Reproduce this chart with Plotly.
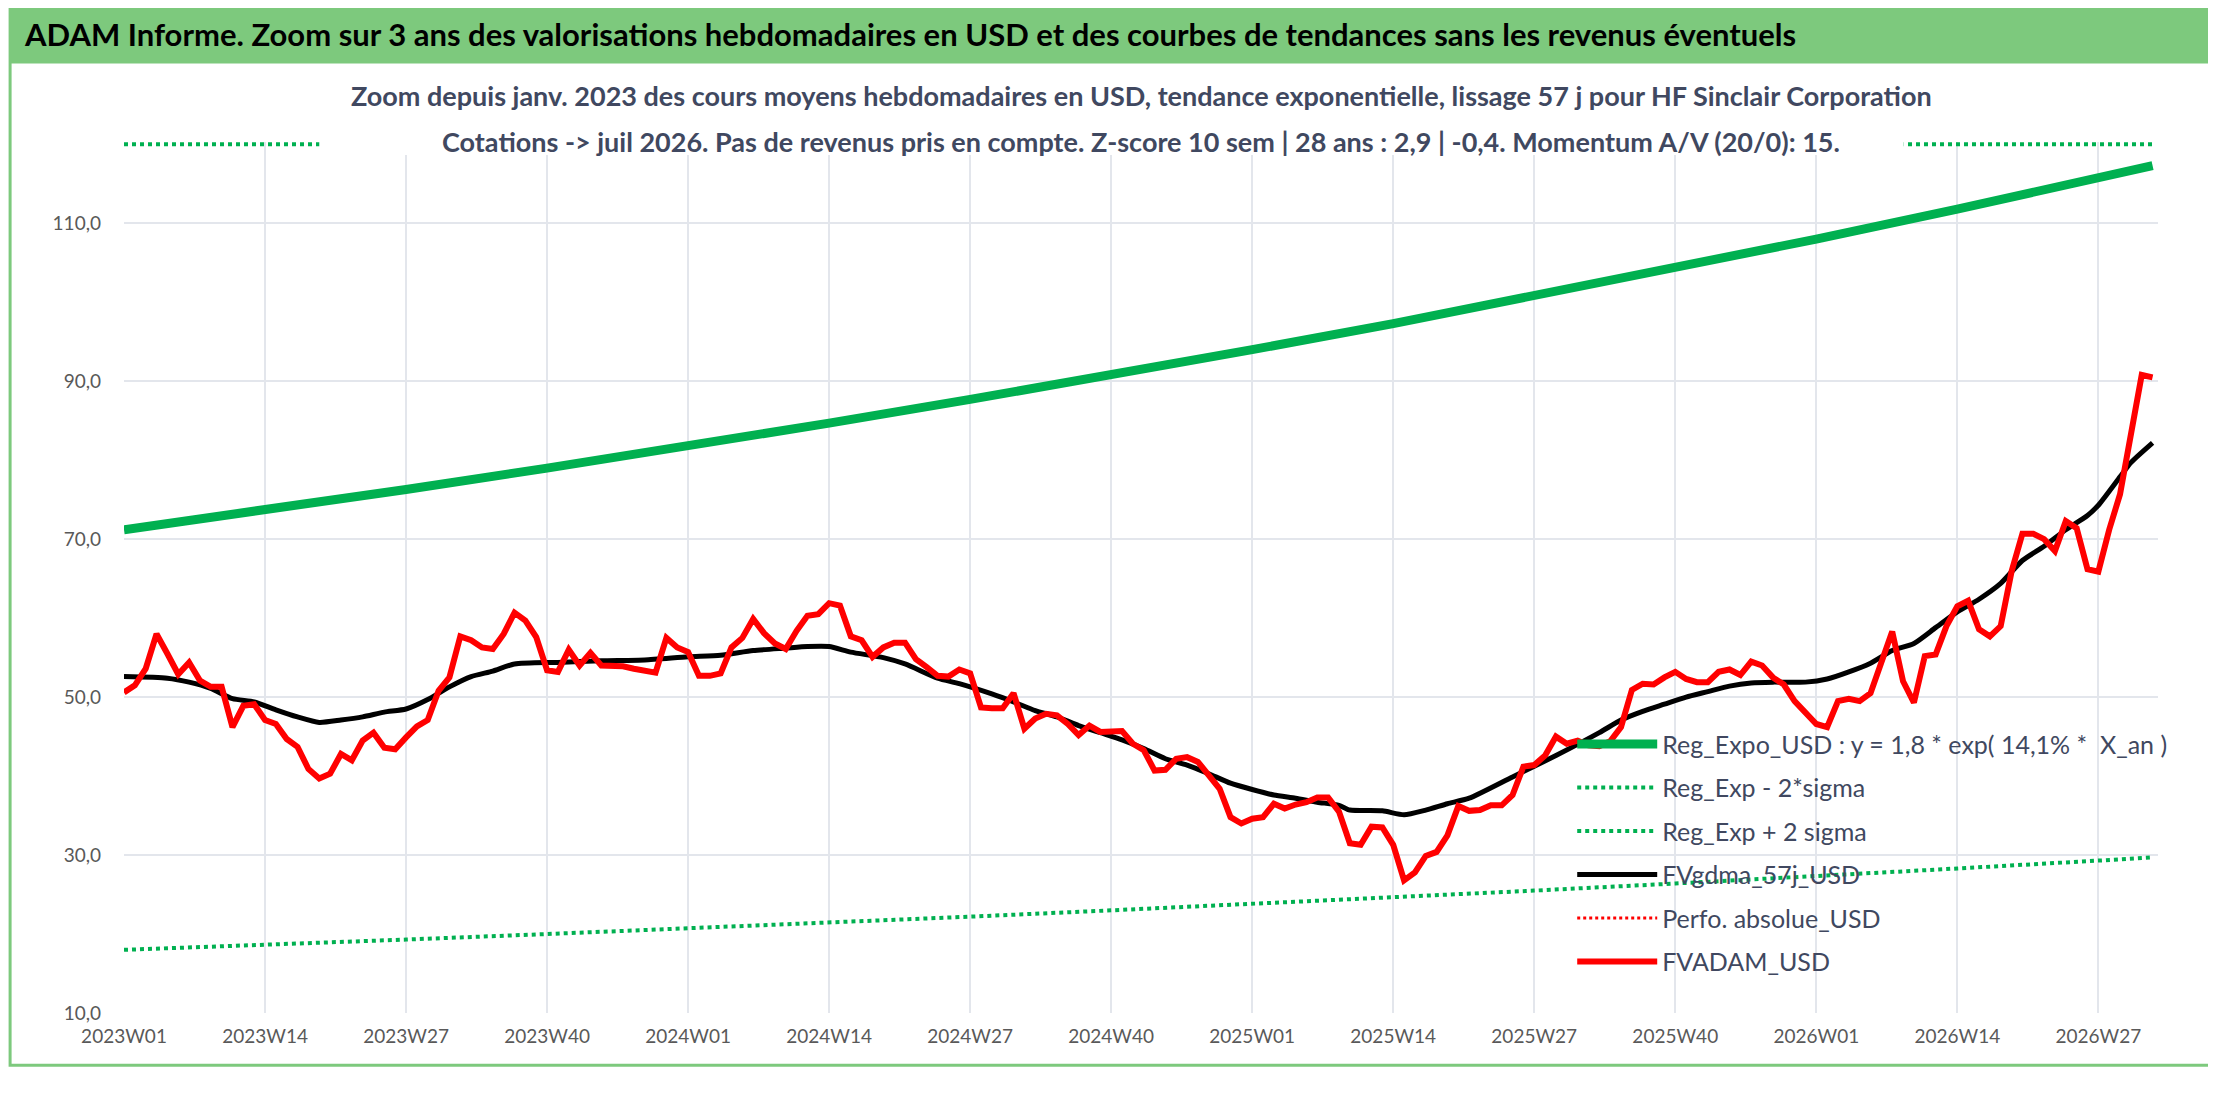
import plotly.graph_objects as go

# --- DATA ---
# weekly categories 2023W01 .. 2026W32
weeks = [f"{y}W{w:02d}" for y in (2023, 2024, 2025) for w in range(1, 53)] + \
        [f"2026W{w:02d}" for w in range(1, 33)]
tick_weeks = ["2023W01", "2023W14", "2023W27", "2023W40", "2024W01", "2024W14", "2024W27",
              "2024W40", "2025W01", "2025W14", "2025W27", "2025W40", "2026W01", "2026W14", "2026W27"]

fvadam = [50.6, 51.5, 53.6, 58.0, 55.5, 52.9, 54.4, 52.1, 51.3, 51.3, 46.2, 48.9, 49.1, 47.1, 46.6,
          44.7, 43.7, 40.9, 39.7, 40.3, 42.8, 42.0, 44.5, 45.5, 43.6, 43.4, 44.9, 46.3, 47.1, 50.8,
          52.5, 57.7, 57.2, 56.3, 56.1, 58.0, 60.7, 59.7, 57.6, 53.4, 53.2, 56.0, 54.0, 55.6, 54.0,
          54.0, 53.9, 53.6, 53.3, 53.1, 57.5, 56.3, 55.7, 52.7, 52.7, 53.0, 56.3, 57.5, 59.9, 58.1,
          56.8, 56.1, 58.4, 60.3, 60.5, 61.9, 61.6, 57.7, 57.2, 55.1, 56.3, 56.9, 56.9, 54.8, 53.8,
          52.7, 52.6, 53.5, 53.0, 48.7, 48.6, 48.6, 50.5, 46.0, 47.3, 47.9, 47.7, 46.6, 45.2, 46.4,
          45.6, 45.6, 45.7, 44.1, 43.3, 40.7, 40.8, 42.2, 42.4, 41.8, 40.1, 38.4, 34.8, 34.0, 34.6,
          34.8, 36.5, 35.9, 36.4, 36.7, 37.3, 37.3, 35.5, 31.5, 31.3, 33.6, 33.5, 31.3, 26.8, 27.8,
          29.9, 30.4, 32.5, 36.2, 35.6, 35.7, 36.3, 36.3, 37.6, 41.2, 41.4, 42.6, 45.0, 44.1, 44.5,
          43.9, 43.8, 44.4, 46.2, 50.9, 51.7, 51.6, 52.5, 53.2, 52.3, 51.9, 51.9, 53.2, 53.5, 52.8,
          54.5, 54.0, 52.5, 51.6, 49.5, 48.0, 46.6, 46.2, 49.5, 49.8, 49.5, 50.5, 54.5, 58.3, 52.0,
          49.3, 55.2, 55.4, 59.0, 61.5, 62.2, 58.6, 57.7, 59.0, 65.9, 70.7, 70.7, 70.0, 68.5, 72.3,
          71.4, 66.2, 65.9, 71.2, 75.7, 83.3, 90.8, 90.5]

# smoothed 57-day average, read at selected weeks (index into weeks)
gdma_idx = [0, 4, 6, 8, 10, 12, 14, 16, 18, 20, 22, 24, 26, 28, 30, 32, 34, 36, 40, 44, 48, 52,
            55, 58, 61, 63, 65, 67, 70, 72, 75, 77, 80, 82, 84, 86, 88, 90, 92, 94, 96, 98, 100,
            102, 104, 106, 108, 110, 112, 113, 116, 118, 120, 122, 124, 128, 132, 136, 138, 140,
            142, 144, 146, 148, 150, 152, 155, 157, 159, 161, 163, 165, 167, 169, 171, 173, 175,
            177, 179, 181, 182, 184, 185, 187]
gdma = [52.6, 52.4, 51.9, 51.1, 49.8, 49.4, 48.4, 47.5, 46.8, 47.1, 47.5, 48.1, 48.5, 49.7, 51.3,
        52.6, 53.3, 54.2, 54.4, 54.6, 54.7, 55.1, 55.3, 55.9, 56.2, 56.4, 56.4, 55.7, 55.0, 54.2,
        52.4, 51.7, 50.4, 49.4, 48.3, 47.5, 46.4, 45.5, 44.6, 43.5, 42.2, 41.4, 40.3, 39.1, 38.3,
        37.6, 37.2, 36.7, 36.3, 35.7, 35.6, 35.1, 35.7, 36.5, 37.2, 39.9, 42.6, 45.5, 47.1, 48.2,
        49.1, 50.0, 50.7, 51.4, 51.8, 51.9, 51.9, 52.3, 53.2, 54.3, 55.9, 56.8, 58.8, 60.8, 62.4,
        64.4, 67.3, 69.1, 71.2, 73.0, 74.3, 77.9, 79.7, 82.2]

# regression curve and bands, read at the tick weeks and at the last week
reg_idx = [0, 13, 26, 39, 52, 65, 78, 91, 104, 117, 130, 143, 156, 169, 182, 187]
reg_expo = [71.2, 73.7, 76.3, 79.0, 81.8, 84.7, 87.7, 90.8, 94.0, 97.3, 100.8, 104.3, 108.0,
            111.8, 115.8, 117.3]
reg_minus = [18.0, 18.6, 19.3, 20.0, 20.7, 21.4, 22.2, 23.0, 23.8, 24.6, 25.5, 26.4, 27.3,
             28.3, 29.3, 29.7]
reg_plus = [120.0] * 16  # above the visible range, drawn on the top edge

TITLE = "ADAM Informe. Zoom sur 3 ans des valorisations hebdomadaires en USD et des courbes de tendances sans les revenus éventuels"
SUB1 = "Zoom depuis janv. 2023 des cours moyens hebdomadaires en USD, tendance exponentielle, lissage 57 j pour HF Sinclair Corporation"
SUB2 = "Cotations -> juil 2026. Pas de revenus pris en compte. Z-score 10 sem | 28 ans : 2,9 | -0,4. Momentum A/V (20/0): 15."

GREEN = "#00B050"
FONT = "Lato"
TXT = "#404860"

reg_x = [weeks[i] for i in reg_idx]
gdma_x = [weeks[i] for i in gdma_idx]

fig = go.Figure()
fig.add_trace(go.Scatter(x=reg_x, y=reg_expo, mode="lines", name="Reg_Expo_USD : y = 1,8 * exp( 14,1% *  X_an )",
                         legendgroup="a", line=dict(color=GREEN, width=9)))
fig.add_trace(go.Scatter(x=reg_x, y=reg_minus, mode="lines", name="Reg_Exp - 2*sigma",
                         legendgroup="b", line=dict(color=GREEN, width=4, dash="dot")))
fig.add_trace(go.Scatter(x=reg_x, y=reg_plus, mode="lines", name="Reg_Exp + 2 sigma",
                         legendgroup="c", line=dict(color=GREEN, width=4, dash="dot")))
fig.add_trace(go.Scatter(x=gdma_x, y=gdma, mode="lines", name="FVgdma_57j_USD",
                         legendgroup="d", line=dict(color="black", width=5, shape="spline", smoothing=0.6)))
fig.add_trace(go.Scatter(x=[None], y=[None], mode="lines", name="Perfo. absolue_USD",
                         legendgroup="e", line=dict(color="red", width=3, dash="dot")))
fig.add_trace(go.Scatter(x=weeks, y=fvadam, mode="lines", name="FVADAM_USD",
                         legendgroup="f", line=dict(color="#FF0000", width=6)))

fig.update_layout(
    width=2216, height=1102,
    margin=dict(l=116, r=66, t=134, b=97),
    paper_bgcolor="white", plot_bgcolor="white",
    font=dict(family=FONT, size=20, color="#595959"),
    separators=", ",
    showlegend=True,
    legend=dict(x=0.712, y=0.335, xanchor="left", yanchor="top", bgcolor="rgba(0,0,0,0)",
                font=dict(size=25, color=TXT), tracegroupgap=8, itemwidth=80),
    xaxis=dict(type="category", categoryorder="array", categoryarray=weeks,
               tickmode="array", tickvals=tick_weeks, ticktext=tick_weeks,
               showgrid=True, gridcolor="#E3E6EC", gridwidth=2, range=[0, 187.5],
               showline=False, zeroline=False, ticklabelstandoff=10,
               tickfont=dict(size=19, color="#595959")),
    yaxis=dict(range=[10, 120.3], tickvals=[10, 30, 50, 70, 90, 110], tickformat=".1f",
               showgrid=True, gridcolor="#E3E6EC", gridwidth=2, zeroline=False,
               ticklabelstandoff=22, tickfont=dict(size=19, color="#595959")),
    shapes=[
        dict(type="rect", xref="paper", yref="paper", x0=-0.056, x1=1.031, y0=-0.06, y1=1.152,
             line=dict(color="#7DC97D", width=3), layer="below"),
        dict(type="rect", xref="paper", yref="paper", x0=-0.056, x1=1.031, y0=1.09, y1=1.152,
             fillcolor="#7DC97D", line=dict(width=0), layer="below"),
        # white box behind the subtitle, hiding the band line under it
        dict(type="rect", xref="paper", yref="paper", x0=0.096, x1=0.875, y0=0.985, y1=1.088,
             fillcolor="white", line=dict(width=0), layer="above"),
    ],
    annotations=[
        dict(text="<b>" + TITLE + "</b>", xref="paper", yref="paper", x=-0.05, y=1.148,
             xanchor="left", yanchor="top", showarrow=False,
             font=dict(family=FONT, size=31, color="black")),
        dict(text="<b>" + SUB1 + "</b>", xref="paper", yref="paper", x=0.5, y=1.075,
             xanchor="center", yanchor="top", showarrow=False,
             font=dict(family=FONT, size=27, color=TXT)),
        dict(text="<b>" + SUB2 + "</b>", xref="paper", yref="paper", x=0.5, y=1.022,
             xanchor="center", yanchor="top", showarrow=False,
             font=dict(family=FONT, size=27, color=TXT)),
    ],
)

fig.write_html("out.html")
